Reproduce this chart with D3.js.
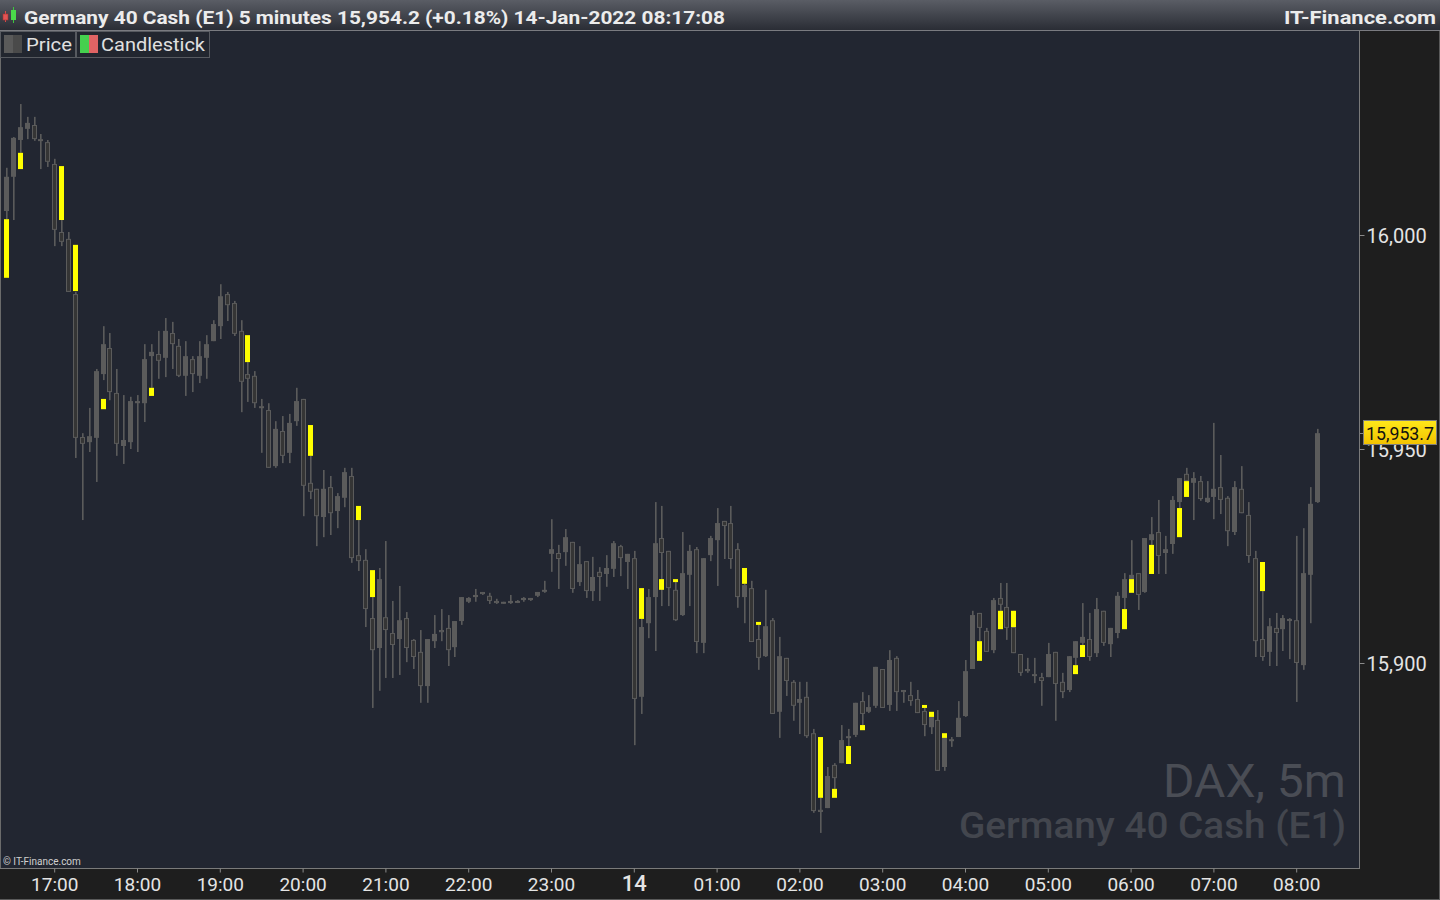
<!DOCTYPE html>
<html><head><meta charset="utf-8">
<script src="https://cdn.jsdelivr.net/npm/d3@7"></script>
<style>
html,body{margin:0;padding:0;background:#1e1e1e;overflow:hidden}
svg{display:block}
text{font-family:Roboto,"DejaVu Sans",sans-serif}
</style></head><body>
<svg id="c" width="1440" height="900"></svg>
<script>
// ---------- DATA (Germany 40 Cash, 5 minute candles, 13-Jan-2022 16:25 -> 14-Jan-2022 08:15) ----------
const startTime = "2022-01-13T16:25:00Z";
const stepMinutes = 5;
const opens = [
16005.6,16013.6,16022.2,16024.8,16025.7,16022.4,16021.7,16016.6,16000.7,15999.1,
15986.2,15952.8,15951.6,15952.6,15967.5,15973.6,15963.1,15950.7,15951.6,15960.7,
15960.7,15971.7,15972.2,15971.3,15977.1,15974.1,15967.1,15971.0,15967.1,15971.3,
15975.2,15978.7,15986.2,15984.1,15977.6,15967.5,15967.1,15960.0,15959.1,15946.0,
15954.2,15949.1,15956.5,15961.7,15942.1,15940.7,15934.1,15941.1,15935.5,15938.6,
15943.7,15925.2,15924.1,15910.5,15903.5,15910.7,15907.0,15905.6,15910.5,15905.4,
15902.6,15894.6,15905.1,15907.7,15908.2,15903.7,15909.8,15914.3,15915.4,15916.6,
15915.7,15914.5,15914.3,15914.0,15914.5,15914.7,15915.2,15915.7,15916.8,15925.5,
15925.7,15925.9,15928.3,15918.9,15923.8,15916.8,15921.3,15920.8,15922.0,15927.3,
15923.6,15924.5,15892.1,15909.3,15915.4,15929.2,15926.2,15917.1,15911.2,15920.6,
15926.6,15904.7,15925.2,15928.7,15933.2,15932.7,15926.6,15915.4,15917.5,15905.6,
15901.6,15910.0,15888.6,15901.2,15895.6,15890.7,15892.1,15883.6,15865.7,15866.1,
15876.2,15876.6,15882.5,15883.2,15891.1,15888.6,15890.0,15898.6,15890.2,15901.2,
15893.7,15892.5,15891.6,15888.8,15885.0,15886.7,15875.7,15881.8,15882.7,15887.6,
15898.6,15911.7,15907.5,15903.0,15915.2,15913.1,15908.4,15902.1,15898.6,15897.4,
15896.7,15896.7,15902.6,15895.6,15893.7,15901.2,15904.7,15905.6,15902.3,15912.2,
15904.4,15907.0,15915.2,15919.6,15921.0,15916.6,15928.7,15930.6,15925.7,15927.8,
15937.6,15944.2,15942.1,15942.5,15937.6,15938.8,15941.1,15938.6,15930.6,15940.7,
15934.6,15924.5,15905.6,15902.6,15908.2,15907.9,15909.8,15910.0,15899.5,15920.6,
15937.6];
const highs = [
16015.7,16022.9,16030.6,16027.6,16027.6,16023.6,16022.2,16017.8,16003.5,16000.7,
15986.7,15953.7,15959.6,15968.7,15978.7,15977.1,15968.7,15962.6,15962.2,15962.6,
15974.5,15974.5,15977.6,15980.6,15979.7,15975.7,15975.2,15971.7,15975.2,15976.6,
15980.1,15988.5,15986.7,15984.6,15980.1,15970.3,15968.2,15961.7,15960.7,15956.5,
15957.7,15958.2,15964.3,15961.7,15948.4,15940.7,15945.1,15943.7,15939.7,15945.6,
15945.6,15933.4,15926.6,15915.4,15922.2,15928.5,15914.5,15918.0,15911.9,15905.6,
15907.7,15905.6,15911.2,15912.6,15911.2,15909.8,15915.4,15915.4,15917.3,15916.6,
15916.4,15915.0,15914.3,15915.9,15914.7,15915.4,15915.2,15916.6,15919.2,15933.6,
15927.6,15931.3,15928.3,15927.3,15923.8,15924.8,15922.4,15925.2,15928.5,15927.6,
15925.5,15926.2,15910.3,15917.3,15937.6,15936.7,15926.2,15918.9,15930.6,15927.6,
15927.1,15924.5,15929.7,15936.2,15933.2,15936.7,15928.0,15918.5,15919.2,15908.9,
15917.1,15910.5,15906.1,15901.2,15896.0,15895.6,15895.6,15884.6,15868.5,15875.7,
15876.6,15885.5,15884.6,15890.7,15893.2,15892.5,15899.1,15898.6,15903.0,15901.6,
15893.7,15895.6,15893.7,15889.5,15887.4,15889.0,15882.5,15882.7,15891.1,15900.7,
15912.2,15911.7,15908.2,15915.2,15918.7,15918.7,15912.2,15902.1,15901.2,15901.2,
15897.7,15904.7,15902.6,15897.7,15901.6,15905.1,15914.0,15911.7,15915.2,15912.2,
15908.2,15916.6,15921.0,15928.7,15921.0,15929.2,15934.1,15938.1,15929.7,15939.0,
15943.2,15945.6,15944.6,15943.7,15942.5,15956.1,15948.6,15939.0,15942.5,15946.0,
15937.6,15926.2,15916.8,15910.5,15911.7,15911.2,15910.5,15929.7,15931.5,15941.1,
15954.7];
const lows = [
16003.7,16003.5,16019.2,16022.4,16022.0,16015.4,16015.9,15997.4,15997.4,15986.7,
15947.9,15933.4,15949.3,15942.3,15966.1,15961.4,15948.4,15946.5,15950.0,15949.3,
15956.3,15964.3,15966.4,15966.8,15968.7,15966.8,15962.4,15963.3,15965.4,15966.4,
15975.2,15975.7,15979.9,15976.4,15958.6,15961.0,15959.6,15949.1,15945.6,15945.6,
15946.7,15946.7,15955.4,15934.3,15938.3,15927.3,15929.4,15929.9,15931.5,15936.4,
15923.4,15921.5,15908.4,15889.5,15893.5,15896.5,15896.5,15897.2,15900.2,15898.6,
15890.7,15890.7,15903.5,15905.1,15899.3,15901.4,15908.9,15914.0,15914.3,15915.9,
15913.8,15913.8,15913.8,15913.8,15914.0,15914.3,15914.5,15915.4,15916.4,15921.3,
15917.3,15922.7,15916.4,15918.0,15915.2,15914.5,15914.5,15917.8,15920.1,15920.3,
15917.3,15880.8,15888.1,15905.8,15902.8,15913.3,15913.3,15909.8,15911.0,15913.3,
15902.3,15902.3,15923.8,15918.0,15924.3,15922.0,15912.9,15909.3,15904.9,15898.4,
15901.4,15888.1,15882.5,15892.3,15886.5,15883.4,15882.5,15865.0,15860.3,15866.1,
15870.6,15876.6,15880.6,15882.7,15885.5,15888.3,15889.5,15889.5,15888.8,15888.8,
15890.7,15890.0,15888.3,15882.9,15883.4,15874.8,15874.8,15880.4,15882.7,15887.4,
15898.6,15905.1,15902.6,15902.3,15912.2,15905.4,15902.3,15897.0,15897.7,15895.3,
15890.0,15896.7,15886.5,15891.8,15893.2,15899.5,15904.2,15900.5,15901.4,15904.0,
15901.4,15905.8,15912.6,15919.6,15912.4,15916.4,15927.6,15920.8,15920.8,15925.5,
15936.2,15942.5,15933.4,15937.9,15937.4,15933.6,15934.8,15927.3,15929.9,15935.0,
15923.4,15901.4,15900.5,15899.3,15899.3,15902.8,15900.9,15890.9,15898.4,15909.3,
15937.4];
const closes = [
16013.6,16022.7,16025.2,16026.2,16022.4,16022.0,16017.1,16001.2,15998.4,15986.7,
15952.6,15951.2,15953.0,15968.2,15974.5,15963.3,15951.2,15952.1,15961.2,15961.2,
15971.0,15972.7,15970.6,15977.6,15974.5,15967.1,15971.7,15967.5,15971.7,15974.5,
15979.2,15985.7,15983.6,15976.9,15965.7,15966.4,15960.7,15959.6,15945.6,15954.7,
15948.4,15956.1,15961.2,15941.4,15940.0,15934.3,15940.7,15935.0,15939.0,15944.6,
15924.5,15923.8,15912.6,15903.0,15919.6,15907.7,15904.2,15910.0,15903.5,15901.4,
15894.6,15905.6,15906.8,15907.2,15903.0,15909.8,15915.4,15915.2,15915.9,15916.1,
15914.5,15914.0,15914.0,15914.5,15914.3,15915.2,15914.7,15916.6,15917.1,15926.6,
15924.3,15929.4,15917.3,15923.1,15916.8,15920.1,15920.1,15922.2,15928.0,15924.5,
15925.5,15891.6,15908.4,15915.4,15928.0,15925.7,15917.5,15910.0,15921.0,15926.2,
15904.9,15924.5,15929.2,15932.7,15932.0,15924.3,15915.4,15918.2,15904.9,15901.2,
15908.6,15888.1,15901.6,15895.8,15890.0,15891.6,15882.9,15865.4,15865.2,15873.6,
15873.1,15882.0,15882.9,15890.7,15888.1,15889.7,15899.1,15889.5,15900.7,15893.2,
15893.2,15891.1,15888.3,15885.5,15887.4,15874.8,15882.5,15882.2,15887.2,15898.1,
15911.2,15908.2,15902.6,15914.7,15913.6,15908.2,15902.3,15897.7,15898.1,15897.0,
15895.8,15902.1,15895.1,15893.2,15901.6,15905.1,15906.1,15901.4,15912.6,15904.7,
15908.2,15915.7,15919.6,15920.6,15915.9,15929.2,15930.1,15925.0,15926.6,15938.1,
15943.2,15942.5,15943.2,15938.3,15938.6,15940.7,15938.1,15930.8,15941.1,15935.0,
15925.0,15905.1,15901.4,15908.6,15907.0,15910.5,15910.3,15900.0,15921.0,15937.2,
15953.7];
// highlighted (yellow) blocks: candle index, upper price, lower price
const yellowIdx = [0,2,8,10,14,21,35,44,51,53,92,95,97,107,109,118,120,122,124,133,134,136,141,144,146,155,156,162,163,166,170,171,182];
const yellowTop = [16003.7,16019.2,16016.1,15997.7,15961.7,15964.3,15976.6,15955.6,15936.7,15921.7,15917.5,15919.6,15919.6,15922.2,15909.6,15882.7,15870.6,15880.6,15885.5,15890.2,15888.6,15883.6,15905.1,15912.2,15912.2,15899.5,15904.2,15912.6,15919.6,15927.6,15936.2,15942.5,15923.6];
const yellowBottom = [15990.0,16015.4,16003.5,15986.9,15959.3,15962.4,15970.3,15948.4,15933.4,15915.4,15910.3,15917.1,15918.9,15918.5,15908.9,15868.5,15868.5,15876.4,15884.3,15889.5,15887.4,15882.5,15900.5,15907.9,15908.4,15897.4,15901.4,15907.9,15916.4,15920.8,15929.4,15938.8,15916.8];
const priceTicks = [15900, 15950, 16000];
const timeTickIdx = [7,19,31,43,55,67,79,91,103,115,127,139,151,163,175,187];
const timeTickLabels = ["17:00","18:00","19:00","20:00","21:00","22:00","23:00","14","01:00","02:00","03:00","04:00","05:00","06:00","07:00","08:00"];
const lastPrice = 15953.7;
const titleText = "Germany 40 Cash (E1) 5 minutes 15,954.2 (+0.18%) 14-Jan-2022 08:17:08";

// ---------- build ----------
const t0 = new Date(startTime).getTime();
const candles = opens.map((o,i)=>({i, t:new Date(t0+i*stepMinutes*60000), o, h:highs[i], l:lows[i], c:closes[i]}));
const yellow = yellowIdx.map((k,j)=>({i:k, top:yellowTop[j], bot:yellowBottom[j]}));

const svg = d3.select('#c');
const defs = svg.append('defs');
const hg = defs.append('linearGradient').attr('id','hdr').attr('x1',0).attr('y1',0).attr('x2',0).attr('y2',1);
hg.append('stop').attr('offset','0%').attr('stop-color','#5a5d65');
hg.append('stop').attr('offset','100%').attr('stop-color','#2a2d35');
const pg = defs.append('linearGradient').attr('id','plab').attr('x1',0).attr('y1',0).attr('x2',0).attr('y2',1);
pg.append('stop').attr('offset','0%').attr('stop-color','#ffe81a');
pg.append('stop').attr('offset','100%').attr('stop-color','#f2c200');
defs.append('clipPath').attr('id','pclip').append('rect').attr('x',1).attr('y',31).attr('width',1358).attr('height',837);

const P = {left:0, right:1359, top:31, bottom:868};
svg.append('rect').attr('width',1440).attr('height',900).attr('fill','#1e1e1e');
svg.append('rect').attr('x',P.left).attr('y',P.top).attr('width',P.right-P.left).attr('height',P.bottom-P.top).attr('fill','#222631');

const x = d3.scaleLinear().domain([0,190]).range([5.9,1316.9]);
const y = d3.scaleLinear().domain([15900,16000]).range([663,235]);

// watermark
svg.append('text').attr('x',1346).attr('y',797).attr('text-anchor','end').attr('font-size',46).attr('fill','#4a4d55')
  .attr('textLength',183).attr('lengthAdjust','spacingAndGlyphs').text('DAX, 5m');
svg.append('text').attr('x',1346).attr('y',838).attr('text-anchor','end').attr('font-size',37).attr('fill','#43464e').attr('font-weight',500)
  .attr('textLength',387).attr('lengthAdjust','spacingAndGlyphs').text('Germany 40 Cash (E1)');

const g = svg.append('g').attr('clip-path','url(#pclip)');
const GREY = '#5b5b5b';
const cx = d => Math.round(x(d.i));
// wicks
g.selectAll('rect.wick').data(candles).join('rect').attr('class','wick')
  .attr('x', d=>cx(d)).attr('width',1.6)
  .attr('y', d=>y(d.h)).attr('height', d=>Math.max(1, y(d.l)-y(d.h)))
  .attr('fill', GREY);
// bodies
g.selectAll('rect.body').data(candles).join('rect').attr('class','body')
  .attr('x', d=> d.c>=d.o ? cx(d)-2 : cx(d)-1.5)
  .attr('width', d=> d.c>=d.o ? 5 : 4)
  .attr('y', d=> { const t=y(Math.max(d.o,d.c)); return d.c>=d.o ? t : t+0.5; })
  .attr('height', d=> { const hh=Math.max(2, Math.abs(y(d.o)-y(d.c))); return d.c>=d.o ? hh : Math.max(1,hh-1); })
  .attr('fill', d=> d.c>=d.o ? GREY : '#353535')
  .attr('stroke', d=> d.c>=d.o ? 'none' : GREY)
  .attr('stroke-width',1);
// yellow blocks
g.selectAll('rect.yel').data(yellow).join('rect').attr('class','yel')
  .attr('x', d=>Math.round(x(d.i))-2).attr('width',5)
  .attr('y', d=>y(d.top)).attr('height', d=>Math.max(2, y(d.bot)-y(d.top)))
  .attr('fill','#ffff00');

// borders
svg.append('line').attr('x1',0.5).attr('x2',0.5).attr('y1',31).attr('y2',868).attr('stroke','#6b6b6b');
svg.append('line').attr('x1',1359.5).attr('x2',1359.5).attr('y1',31).attr('y2',868).attr('stroke','#7a7a7a');
svg.append('line').attr('x1',0).attr('x2',1360).attr('y1',868.5).attr('y2',868.5).attr('stroke','#7a7a7a');
svg.append('line').attr('x1',0).attr('x2',1440).attr('y1',899.5).attr('y2',899.5).attr('stroke','#5a5a5a');
svg.append('line').attr('x1',1439.5).attr('x2',1439.5).attr('y1',31).attr('y2',900).attr('stroke','#5a5a5a');

// right axis
const ya = svg.append('g').attr('transform','translate(1359.5,0)')
  .call(d3.axisRight(y).tickValues(priceTicks).tickSize(5).tickPadding(2).tickFormat(d3.format(',')));
ya.select('.domain').remove();
ya.selectAll('.tick line').attr('stroke','#8a8a8a');
ya.selectAll('.tick text').attr('fill','#e4e4e4').attr('font-size',20).attr('font-family','Roboto, sans-serif').attr('dy','0.36em');

// bottom axis
const xa = svg.append('g').attr('transform','translate(0,868.5)')
  .call(d3.axisBottom(x).tickValues(timeTickIdx).tickSize(4).tickPadding(5).tickFormat((d,k)=>timeTickLabels[k]));
xa.select('.domain').remove();
xa.selectAll('.tick line').attr('stroke','#8a8a8a');
xa.selectAll('.tick text').attr('fill','#e4e4e4').attr('font-size',d=> d===91 ? 22 : 19)
  .attr('font-family','Roboto, sans-serif').attr('font-weight',d=> d===91 ? 500 : 400)
  .attr('dy', d=> d===91 ? '0.62em' : '0.72em');

// last price label
const ly = y(lastPrice);
svg.append('line').attr('x1',1360).attr('x2',1365).attr('y1',Math.round(ly)+0.5).attr('y2',Math.round(ly)+0.5).attr('stroke','#8a8a8a');
svg.append('rect').attr('x',1363.5).attr('y',Math.round(ly)-12.5).attr('width',73).attr('height',24)
  .attr('fill','url(#plab)').attr('stroke','#7d7d7d');
svg.append('text').attr('x',1366).attr('y',Math.round(ly)+7).attr('font-size',19).attr('fill','#111')
  .attr('textLength',68).attr('lengthAdjust','spacingAndGlyphs').text(d3.format(',.1f')(lastPrice));

// header
svg.append('rect').attr('x',0).attr('y',0).attr('width',1440).attr('height',30).attr('fill','url(#hdr)');
svg.append('line').attr('x1',0).attr('x2',1440).attr('y1',30.5).attr('y2',30.5).attr('stroke','#7a7b80');
// icon
svg.append('rect').attr('x',5).attr('y',11).attr('width',1).attr('height',11).attr('fill','#d84848');
svg.append('rect').attr('x',3).attr('y',14).attr('width',5).attr('height',6).attr('fill','#e05555').attr('stroke','#b03030').attr('stroke-width',0.6);
svg.append('rect').attr('x',13).attr('y',7).attr('width',1).attr('height',16).attr('fill','#3cc83c');
svg.append('rect').attr('x',11).attr('y',10).attr('width',5).attr('height',10).attr('fill','#4ad84a');
svg.append('text').attr('x',24).attr('y',24).attr('font-size',18.5).attr('font-weight',700).attr('fill','#ececec')
  .attr('textLength',701).attr('lengthAdjust','spacingAndGlyphs').text(titleText);
svg.append('text').attr('x',1284).attr('y',24).attr('font-size',19).attr('font-weight',700).attr('fill','#ececec')
  .attr('textLength',152).attr('lengthAdjust','spacingAndGlyphs').text('IT-Finance.com');

// legend
svg.append('rect').attr('x',0.5).attr('y',31.5).attr('width',75).attr('height',26).attr('fill','#22262f').attr('stroke','#575a60');
svg.append('rect').attr('x',76.5).attr('y',31.5).attr('width',133).attr('height',26).attr('fill','#22262f').attr('stroke','#575a60');
svg.append('rect').attr('x',4).attr('y',35).attr('width',9).attr('height',18).attr('fill','#5a5a5a');
svg.append('rect').attr('x',13).attr('y',35).attr('width',9).attr('height',18).attr('fill','#4a4a4a');
svg.append('rect').attr('x',80).attr('y',35).attr('width',9).attr('height',18).attr('fill','#45d04e');
svg.append('rect').attr('x',89).attr('y',35).attr('width',9).attr('height',18).attr('fill','#e06464');
svg.append('text').attr('x',26).attr('y',51).attr('font-size',18).attr('fill','#e0e0e0')
  .attr('textLength',46).attr('lengthAdjust','spacingAndGlyphs').text('Price');
svg.append('text').attr('x',101).attr('y',51).attr('font-size',18).attr('fill','#e0e0e0')
  .attr('textLength',104).attr('lengthAdjust','spacingAndGlyphs').text('Candlestick');

// copyright
svg.append('text').attr('x',3).attr('y',865).attr('font-size',10).attr('fill','#d0d0d0').text('© IT-Finance.com');
</script>
</body></html>
